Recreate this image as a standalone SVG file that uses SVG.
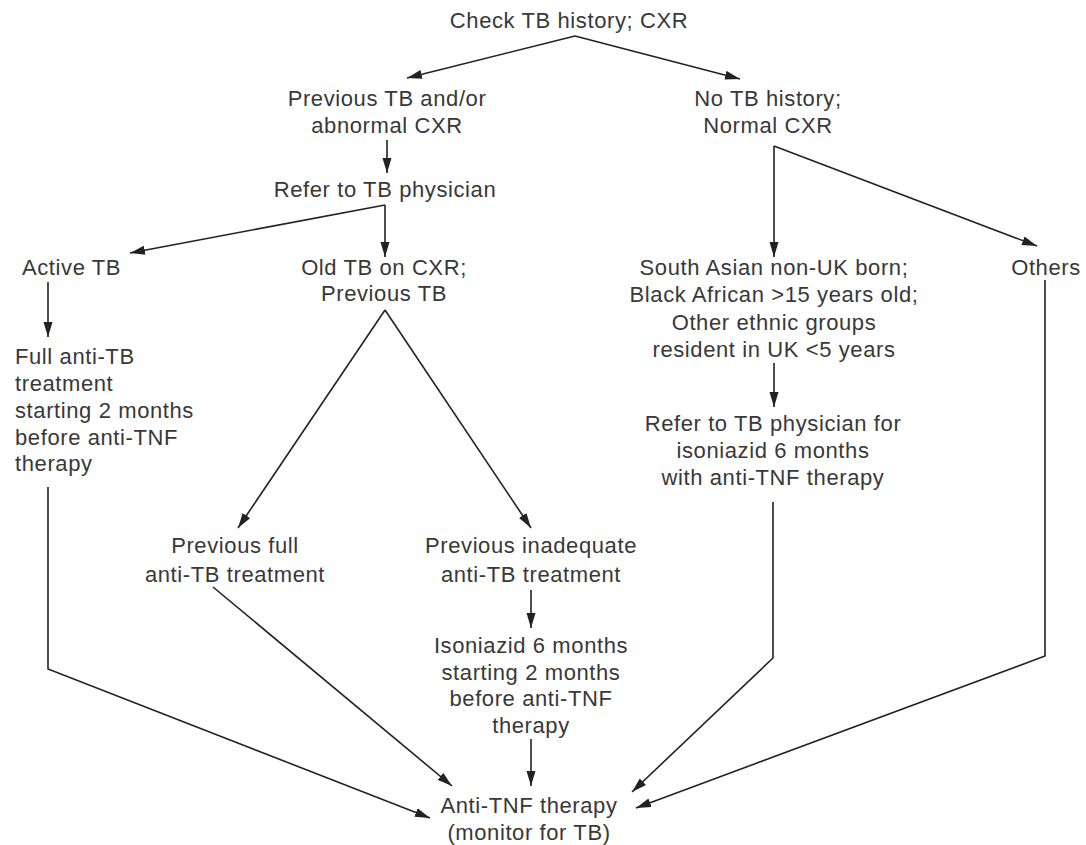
<svg xmlns="http://www.w3.org/2000/svg" width="1086" height="845" viewBox="0 0 1086 845">
<style>
text{font-family:"Liberation Sans",Arial,sans-serif;font-size:22px;fill:#383838;letter-spacing:0.6px;}
.c{text-anchor:middle;}
.l{text-anchor:start;}
.e{fill:none;stroke:#222;stroke-width:1.6;}
</style>
<defs>
<marker id="ah" markerUnits="userSpaceOnUse" markerWidth="16" markerHeight="10" refX="15" refY="5" orient="auto">
<path d="M0,0.5 L15,5 L0,9.5 z" fill="#222"/>
</marker>
</defs>
<rect width="1086" height="845" fill="#fff"/>
<g id="connectors">
<path class="e" d="M575,36 L407,78" marker-end="url(#ah)"/>
<path class="e" d="M575,36 L740,79" marker-end="url(#ah)"/>
<path class="e" d="M387,140 L387,173" marker-end="url(#ah)"/>
<path class="e" d="M385,205 L130,253" marker-end="url(#ah)"/>
<path class="e" d="M385,205 L385,257" marker-end="url(#ah)"/>
<path class="e" d="M48,282 L48,337" marker-end="url(#ah)"/>
<path class="e" d="M385,310 L238,528" marker-end="url(#ah)"/>
<path class="e" d="M385,310 L531,528" marker-end="url(#ah)"/>
<path class="e" d="M48,487 L48,669 L430,818" marker-end="url(#ah)"/>
<path class="e" d="M213,587 L452,786" marker-end="url(#ah)"/>
<path class="e" d="M531,590 L531,628" marker-end="url(#ah)"/>
<path class="e" d="M531,739 L531,786" marker-end="url(#ah)"/>
<path class="e" d="M774,146 L774,257" marker-end="url(#ah)"/>
<path class="e" d="M774,146 L1037,246" marker-end="url(#ah)"/>
<path class="e" d="M774,363 L774,407" marker-end="url(#ah)"/>
<path class="e" d="M773,502 L773,658 L632,792" marker-end="url(#ah)"/>
<path class="e" d="M1045,280 L1045,656 L636,808" marker-end="url(#ah)"/>
</g>
<g id="n-check"><text class="c" x="569" y="28">Check TB history; CXR</text></g>
<g id="n-prevtb"><text class="c" x="387" y="106">Previous TB and/or</text><text class="c" x="387" y="133">abnormal CXR</text></g>
<g id="n-notb"><text class="c" x="768" y="106">No TB history;</text><text class="c" x="768" y="133">Normal CXR</text></g>
<g id="n-refer"><text class="c" x="385" y="197">Refer to TB physician</text></g>
<g id="n-active"><text class="l" x="22" y="275">Active TB</text></g>
<g id="n-oldtb"><text class="c" x="384" y="275">Old TB on CXR;</text><text class="c" x="384" y="301">Previous TB</text></g>
<g id="n-full"><text class="l" x="15" y="364">Full anti-TB</text><text class="l" x="15" y="391">treatment</text><text class="l" x="15" y="418">starting 2 months</text><text class="l" x="15" y="445">before anti-TNF</text><text class="l" x="15" y="471">therapy</text></g>
<g id="n-prevfull"><text class="c" x="235" y="553">Previous full</text><text class="c" x="235" y="582">anti-TB treatment</text></g>
<g id="n-previnad"><text class="c" x="531" y="553">Previous inadequate</text><text class="c" x="531" y="582">anti-TB treatment</text></g>
<g id="n-isoniazid"><text class="c" x="531" y="653">Isoniazid 6 months</text><text class="c" x="531" y="680">starting 2 months</text><text class="c" x="531" y="706">before anti-TNF</text><text class="c" x="531" y="733">therapy</text></g>
<g id="n-antitnf"><text class="c" x="529" y="813">Anti-TNF therapy</text><text class="c" x="529" y="840">(monitor for TB)</text></g>
<g id="n-southasian"><text class="c" x="774" y="275">South Asian non-UK born;</text><text class="c" x="774" y="302">Black African &gt;15 years old;</text><text class="c" x="774" y="330">Other ethnic groups</text><text class="c" x="774" y="357">resident in UK &lt;5 years</text></g>
<g id="n-referiso"><text class="c" x="773" y="431">Refer to TB physician for</text><text class="c" x="773" y="458">isoniazid 6 months</text><text class="c" x="773" y="485">with anti-TNF therapy</text></g>
<g id="n-others"><text class="c" x="1046" y="275">Others</text></g>
</svg>
